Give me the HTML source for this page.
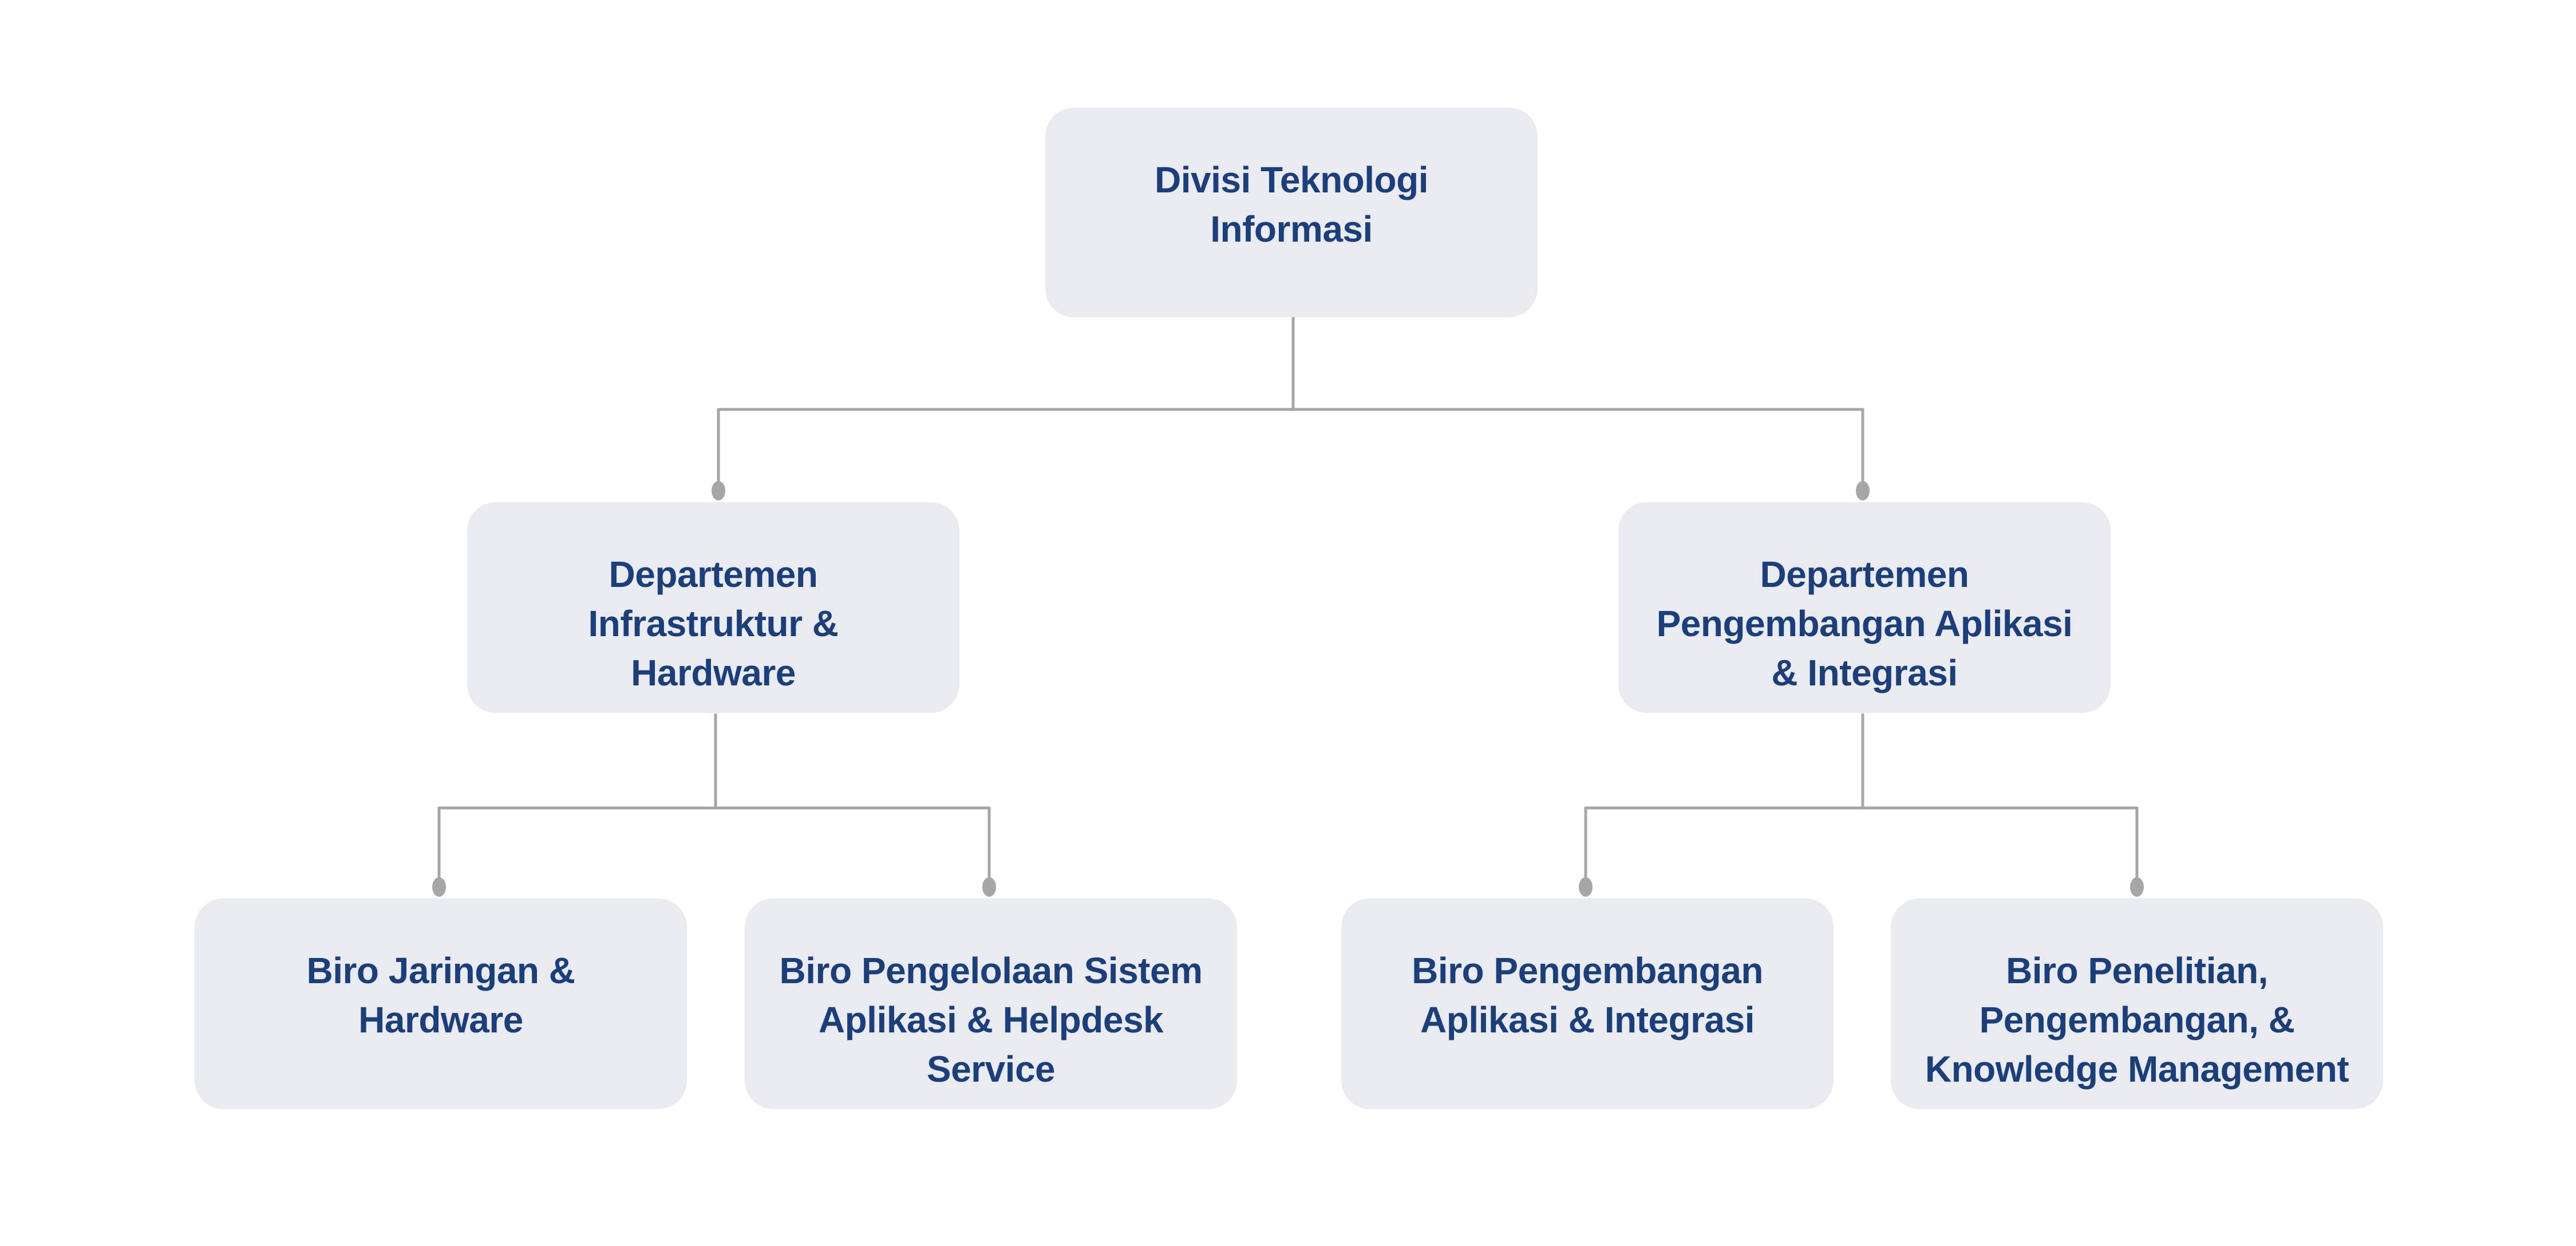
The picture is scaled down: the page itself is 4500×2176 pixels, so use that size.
<!DOCTYPE html>
<html><head><meta charset="utf-8"><style>
html,body{margin:0;padding:0;background:#fff;}
body{width:4500px;height:2176px;position:relative;overflow:hidden;font-family:"Liberation Sans",sans-serif;}
.b{position:absolute;width:860px;height:368px;background:#eaebf0;border-radius:50px;box-sizing:border-box;padding-top:83px;text-align:center;color:#1b3f7a;font-weight:bold;font-size:64px;line-height:86px;letter-spacing:-0.5px;}
svg{position:absolute;left:0;top:0;}
</style></head><body>
<svg width="4500" height="2176">
<g stroke="#a6a6a6" stroke-width="5" fill="none">
<path d="M2259 554 V715 M1255 715 H3254 M1255 713 V857 M3254 713 V857"/>
<path d="M1250 1246 V1411 M767 1411 H1728 M767 1409 V1549 M1728 1409 V1549"/>
<path d="M3254 1246 V1411 M2770 1411 H3733 M2770 1409 V1549 M3733 1409 V1549"/>
</g>
<g fill="#a6a6a6">
<ellipse cx="1255" cy="857" rx="12" ry="17"/><ellipse cx="3254" cy="857" rx="12" ry="17"/>
<ellipse cx="767" cy="1549" rx="12" ry="17"/><ellipse cx="1728" cy="1549" rx="12" ry="17"/>
<ellipse cx="2770" cy="1549" rx="12" ry="17"/><ellipse cx="3733" cy="1549" rx="12" ry="17"/>
</g>
</svg>
<div class="b" style="left:1826px;top:188px;height:366px">Divisi Teknologi<br>Informasi</div>
<div class="b" style="left:816px;top:877px;">Departemen<br>Infrastruktur &amp;<br>Hardware</div>
<div class="b" style="left:2827px;top:877px;">Departemen<br>Pengembangan Aplikasi<br>&amp; Integrasi</div>
<div class="b" style="left:340px;top:1569px;">Biro Jaringan &amp;<br>Hardware</div>
<div class="b" style="left:1301px;top:1569px;">Biro Pengelolaan Sistem<br>Aplikasi &amp; Helpdesk<br>Service</div>
<div class="b" style="left:2343px;top:1569px;">Biro Pengembangan<br>Aplikasi &amp; Integrasi</div>
<div class="b" style="left:3303px;top:1569px;">Biro Penelitian,<br>Pengembangan, &amp;<br>Knowledge Management</div>
</body></html>
